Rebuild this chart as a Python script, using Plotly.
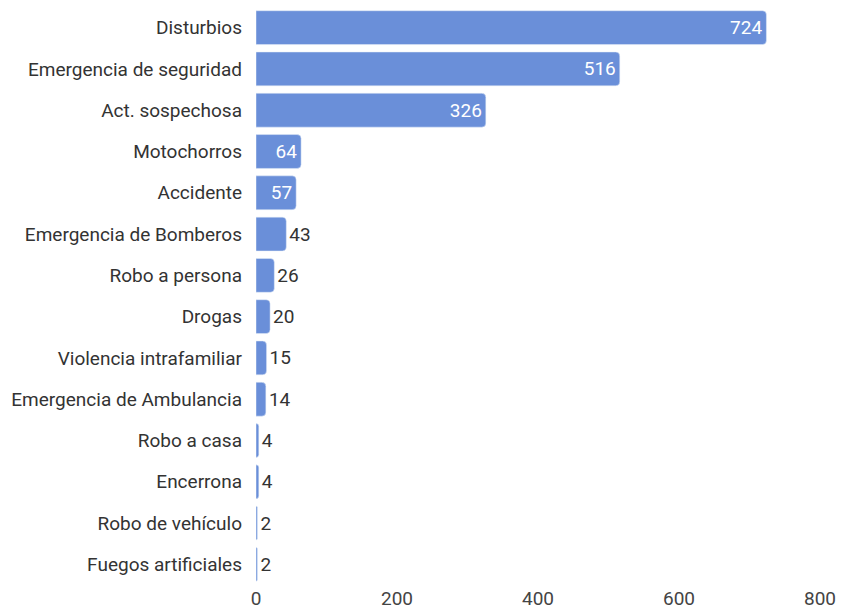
import plotly.graph_objects as go

categories = ["Disturbios", "Emergencia de seguridad", "Act. sospechosa", "Motochorros",
              "Accidente", "Emergencia de Bomberos", "Robo a persona", "Drogas",
              "Violencia intrafamiliar", "Emergencia de Ambulancia", "Robo a casa",
              "Encerrona", "Robo de vehículo", "Fuegos artificiales"]
values = [724, 516, 326, 64, 57, 43, 26, 20, 15, 14, 4, 4, 2, 2]
x_ticks = [0, 200, 400, 600, 800]

positions = ["inside" if v >= 50 else "outside" for v in values]
text_colors = ["white" if v >= 50 else "#333333" for v in values]

fig = go.Figure(go.Bar(
    x=values, y=categories, orientation="h",
    marker=dict(color="#6a8fd9", cornerradius=4),
    text=[str(v) for v in values],
    textposition=positions,
    insidetextanchor="end",
    textfont=dict(size=19, color=text_colors, family="Roboto"),
    cliponaxis=False,
))
fig.update_layout(
    width=842, height=607,
    margin=dict(l=256, r=22, t=7, b=22, autoexpand=False),
    paper_bgcolor="white", plot_bgcolor="white",
    font=dict(family="Roboto", size=19, color="#333333"),
    bargap=0.18,
    showlegend=False,
    uniformtext=dict(minsize=19, mode="show"),
)
fig.update_xaxes(range=[0, 800], tickvals=x_ticks, showgrid=False, zeroline=False,
                 showline=False, automargin=False, tickfont=dict(size=19, color="#444444"))
fig.update_yaxes(autorange="reversed", showgrid=False, showline=False, automargin=False,
                 ticklabelstandoff=13, tickfont=dict(size=19, color="#333333"))
fig.write_html("out.html", config={"displayModeBar": False},
               post_script="document.body.style.margin='0';document.body.style.overflow='hidden';")
